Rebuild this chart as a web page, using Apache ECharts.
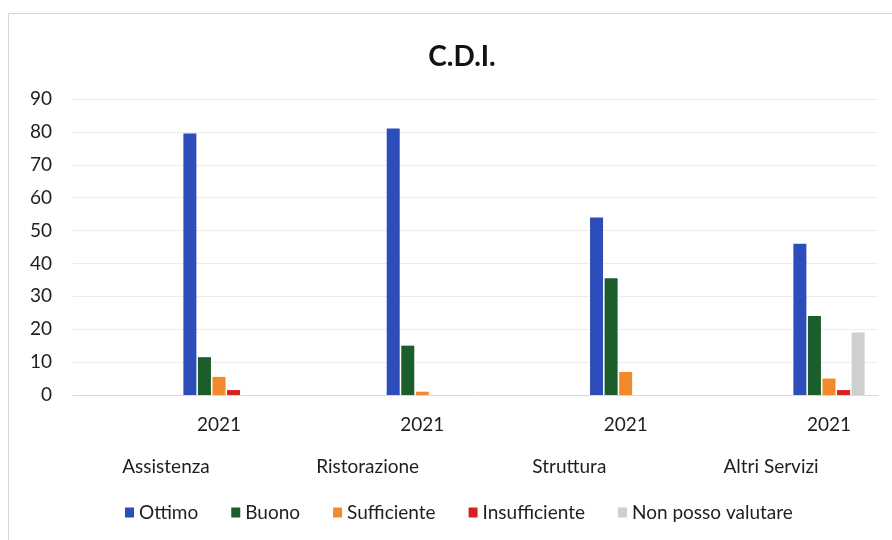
<!DOCTYPE html>
<html>
<head>
<meta charset="utf-8">
<script src="https://cdn.jsdelivr.net/npm/echarts@6/dist/echarts.min.js"></script>
<style>
  html, body { margin: 0; padding: 0; background: #ffffff; }
  #chart { width: 892px; height: 540px; }
</style>
</head>
<body>
<div id="chart"></div>
<script>
// Survey areas and the year under each cluster
const groups = ['Assistenza', 'Ristorazione', 'Struttura', 'Altri Servizi'];
const years = ['2021', '2021', '2021', '2021'];

// Share of answers (%) per rating
const ottimo = [79.5, 81, 54, 46];
const buono = [11.5, 15, 35.5, 24];
const sufficiente = [5.5, 1, 7, 5];
const insufficiente = [1.5, 0, 0, 1.5];
const nonPossoValutare = [0, 0, 0, 19];

const seriesNames = ['Ottimo', 'Buono', 'Sufficiente', 'Insufficiente', 'Non posso valutare'];
const seriesData = [ottimo, buono, sufficiente, insufficiente, nonPossoValutare];
const colors = ['#2d4dbb', '#1b5e2b', '#f08a2c', '#d8201f', '#cfcfcf'];

const yTicks = { min: 0, max: 90, interval: 10 };
const font = 'Lato, "Open Sans", sans-serif';
const textColor = '#1e1e1e';

const chart = echarts.init(document.getElementById('chart'));

const hiddenY = (gridIndex) => ({
  type: 'value', gridIndex, min: yTicks.min, max: yTicks.max, interval: yTicks.interval,
  show: false, splitLine: { show: false }
});

chart.setOption({
  backgroundColor: '#ffffff',
  animation: false,
  color: colors,
  title: {
    text: 'C.D.I.',
    left: 457, top: 38, textAlign: 'center',
    textStyle: { fontFamily: font, fontSize: 28, fontWeight: 'bold', color: '#111' }
  },
  graphic: [{
    type: 'rect', silent: true, z: -10,
    shape: { x: 8.5, y: 13.5, width: 900, height: 560 },
    style: { fill: 'none', stroke: '#d6d6d6', lineWidth: 1 }
  }],
  legend: {
    data: seriesNames,
    left: 120, top: 498,
    itemWidth: 9, itemHeight: 10, itemGap: 33,
    icon: 'rect',
    textStyle: { fontFamily: font, fontSize: 19, color: textColor }
  },
  grid: [
    // value scale, gridlines and baseline
    { left: 73, right: 14, top: 99, bottom: 145 },
    // bars and year labels: cluster centres sit on the ticks
    { left: 219, width: 610, top: 99, bottom: 145 },
    // area names
    { left: 166, width: 605, top: 99, bottom: 145 }
  ],
  xAxis: [
    {
      type: 'category', gridIndex: 0, data: groups,
      axisLine: { show: true, lineStyle: { color: '#d9d9d9', width: 1 } },
      axisTick: { show: false }, axisLabel: { show: false }, splitLine: { show: false }
    },
    {
      type: 'category', gridIndex: 1, data: years, boundaryGap: false,
      axisLine: { show: false }, axisTick: { show: false },
      axisLabel: { fontFamily: font, fontSize: 19, color: textColor, margin: 20 }
    },
    {
      type: 'category', gridIndex: 2, data: groups, boundaryGap: false,
      axisLine: { show: false }, axisTick: { show: false },
      axisLabel: { fontFamily: font, fontSize: 19, color: textColor, margin: 62 }
    }
  ],
  yAxis: [
    {
      type: 'value', gridIndex: 0, min: yTicks.min, max: yTicks.max, interval: yTicks.interval,
      axisLine: { show: false }, axisTick: { show: false },
      axisLabel: { fontFamily: font, fontSize: 19, color: textColor, margin: 21 },
      splitLine: { show: true, lineStyle: { color: '#ececec', width: 1 } }
    },
    hiddenY(1),
    hiddenY(2)
  ],
  series: seriesNames.map((name, i) => ({
    name,
    type: 'bar',
    xAxisIndex: 1, yAxisIndex: 1,
    data: seriesData[i],
    barWidth: 13,
    barGap: '12%',
    itemStyle: { color: colors[i] }
  }))
});
</script>
</body>
</html>
